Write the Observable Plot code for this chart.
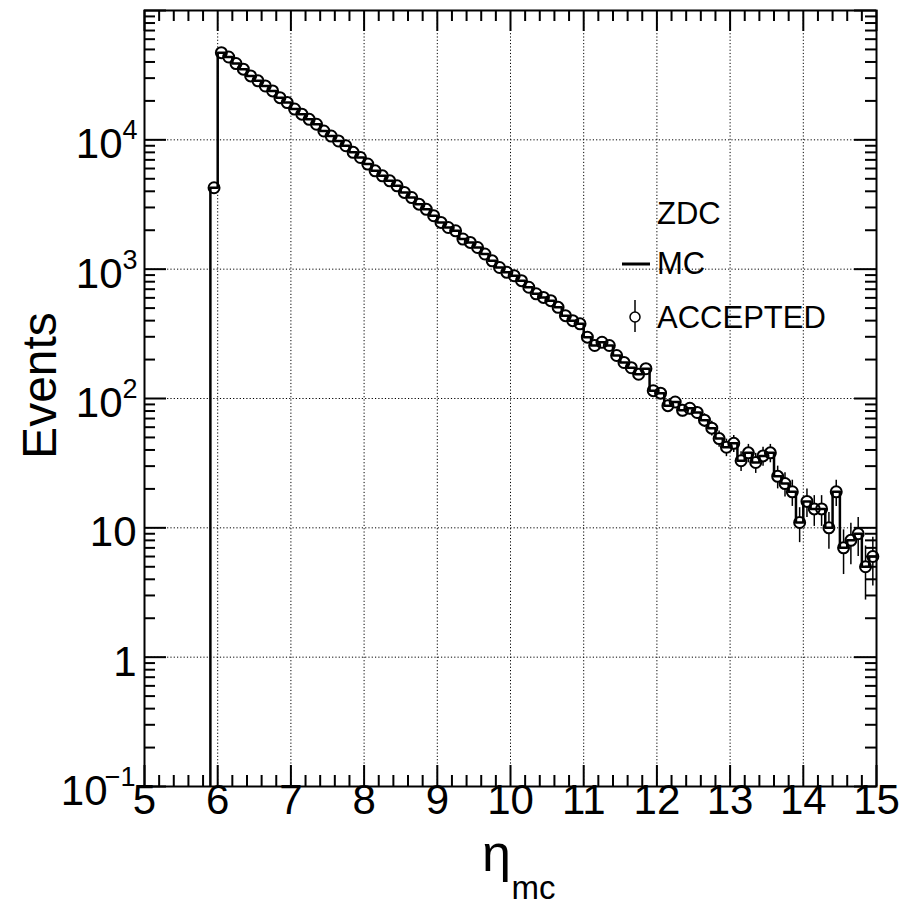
<!DOCTYPE html>
<html>
<head>
<meta charset="utf-8">
<script src="https://cdn.jsdelivr.net/npm/d3@7"></script>
<script src="https://cdn.jsdelivr.net/npm/@observablehq/plot@0.6"></script>
<style>
  body { margin: 0; background: #fff; }
  #chart { position: relative; width: 905px; height: 915px; }
  #legend { position: absolute; left: 0; top: 0; pointer-events: none; }
  svg text { font-family: "Liberation Sans", Arial, Helvetica, sans-serif; }
</style>
</head>
<body>
<div id="chart"></div>
<script>
// Histogram binning: 0.1-wide bins, first filled bin starts at eta = 5.9
const lowEdge = 5.9;
const binWidth = 0.1;

// MC events per bin (eta_mc), from 5.9 up to 15.0
const mcCounts = [
  4260,
  47200, 43700, 38900, 35200, 31200, 28600, 26100, 23900, 21200, 19400,
  17300, 15800, 14400, 13200, 11700, 10700, 9800, 9000, 8000, 7300,
  6500, 5760, 5270, 4820, 4410, 3920, 3580, 3180, 2900, 2590,
  2300, 2100, 1980, 1710, 1610, 1470, 1310, 1160, 1030, 945,
  890, 815, 725, 645, 605, 571, 507, 437, 400, 378,
  298, 257, 272, 257, 215, 190, 173, 154, 170, 115,
  110, 88, 94, 81, 84, 78, 68, 59, 49, 42,
  45, 33, 38, 32, 36, 38, 25, 22, 19, 11,
  16, 14, 14, 10, 19, 7, 8, 9, 5, 6
];

// Accepted events per bin (ZDC acceptance)
const acceptedCounts = [
  4260,
  47200, 43700, 38900, 35200, 31200, 28600, 26100, 23900, 21200, 19400,
  17300, 15800, 14400, 13200, 11700, 10700, 9800, 9000, 8000, 7300,
  6500, 5760, 5270, 4820, 4410, 3920, 3580, 3180, 2900, 2590,
  2300, 2100, 1980, 1710, 1610, 1470, 1310, 1160, 1030, 945,
  890, 815, 725, 645, 605, 571, 507, 437, 400, 378,
  298, 257, 272, 257, 215, 190, 173, 154, 170, 115,
  110, 88, 94, 81, 84, 78, 68, 59, 49, 42,
  45, 33, 38, 32, 36, 38, 25, 22, 19, 11,
  16, 14, 14, 10, 19, 7, 8, 9, 5, 6
];

// Axis ticks
const xMajor = [5, 6, 7, 8, 9, 10, 11, 12, 13, 14, 15];
const xMinor = d3.range(50, 151, 2).filter(v => v % 10 !== 0).map(v => v / 10);
const yDecades = [0.1, 1, 10, 100, 1000, 10000, 100000];
const yMinor = yDecades.slice(0, -1).flatMap(d => [2, 3, 4, 5, 6, 7, 8, 9].map(m => +(m * d).toPrecision(3)));
const yPlainLabels = [{v: 1, t: "1"}, {v: 10, t: "10"}];
const yPowLabels = [{v: 100, e: "2"}, {v: 1000, e: "3"}, {v: 10000, e: "4"}];
const yNegLabels = [{v: 0.1, e: "\u22121"}];

// Layout
const width = 905, height = 915;
const margin = {top: 10, right: 29, bottom: 129, left: 144};
const frameW = width - margin.left - margin.right;
const frameH = height - margin.top - margin.bottom;
const font = "Liberation Sans, Arial, Helvetica, sans-serif";
const yFloor = yDecades[0];

// Bin tables
const mcSteps = mcCounts.map((c, i) => ({x: +(lowEdge + i * binWidth).toFixed(2), y: c}));
mcSteps.push({x: +(lowEdge + mcCounts.length * binWidth).toFixed(2), y: mcCounts[mcCounts.length - 1]});
const accepted = acceptedCounts.map((c, i) => ({
  x: +(lowEdge + (i + 0.5) * binWidth).toFixed(2),
  y: c,
  lo: c - Math.sqrt(c),
  hi: c + Math.sqrt(c)
}));

const black = "#000";
const majorLen = 21, minorLen = 11;
const markerR = 5.5;

const chart = Plot.plot({
  width, height,
  marginTop: margin.top, marginRight: margin.right,
  marginBottom: margin.bottom, marginLeft: margin.left,
  style: {fontFamily: font, background: "#fff", overflow: "visible"},
  x: {domain: [5, 15], axis: null},
  y: {type: "log", domain: [yFloor, 100000], axis: null},
  marks: [
    // dotted grid
    Plot.ruleX(xMajor.slice(1, -1), {stroke: black, strokeWidth: 1, strokeDasharray: "1.2,2.1"}),
    Plot.ruleY(yDecades.slice(1, -1), {stroke: black, strokeWidth: 1, strokeDasharray: "1.2,2.1"}),

    // accepted: Poisson error bars, hidden inside the open markers
    Plot.ruleX(accepted, {x: "x", y1: "lo", y2: "hi", stroke: black, strokeWidth: 1.5}),
    Plot.dot(accepted, {x: "x", y: "y", r: markerR, fill: "#fff", stroke: "none"}),
    Plot.dot(accepted, {x: "x", y: "y", r: markerR, fill: "none", stroke: black, strokeWidth: 2}),

    // MC histogram outline
    Plot.ruleX([mcSteps[0]], {x: "x", y1: () => yFloor, y2: "y", stroke: black, strokeWidth: 2.5}),
    Plot.line(mcSteps, {x: "x", y: "y", curve: "step-after", stroke: black, strokeWidth: 2.5}),

    // frame
    Plot.frame({stroke: black, strokeWidth: 2}),

    // inward ticks: bottom / top
    Plot.ruleX(xMajor, {stroke: black, strokeWidth: 2, insetTop: frameH - majorLen}),
    Plot.ruleX(xMinor, {stroke: black, strokeWidth: 2, insetTop: frameH - minorLen}),
    Plot.ruleX(xMajor, {stroke: black, strokeWidth: 2, insetBottom: frameH - majorLen}),
    Plot.ruleX(xMinor, {stroke: black, strokeWidth: 2, insetBottom: frameH - minorLen}),
    // inward ticks: left / right
    Plot.ruleY(yDecades, {stroke: black, strokeWidth: 2, insetRight: frameW - 22}),
    Plot.ruleY(yMinor, {stroke: black, strokeWidth: 2, insetRight: frameW - minorLen}),
    Plot.ruleY(yDecades, {stroke: black, strokeWidth: 2, insetLeft: frameW - 22}),
    Plot.ruleY(yMinor, {stroke: black, strokeWidth: 2, insetLeft: frameW - minorLen}),

    // x tick labels
    Plot.text(xMajor, {x: d => d, frameAnchor: "bottom", dy: 27, text: d => String(d), fontSize: 42, fill: black}),

    // y tick labels
    Plot.text(yPlainLabels, {y: "v", text: "t", frameAnchor: "left", textAnchor: "end", dx: -8, dy: 5, fontSize: 42, fill: black}),
    Plot.text(yPowLabels, {y: "v", text: () => "10", frameAnchor: "left", textAnchor: "end", dx: -22, dy: 5, fontSize: 42, fill: black}),
    Plot.text(yPowLabels, {y: "v", text: "e", frameAnchor: "left", textAnchor: "end", dx: -7, dy: -9, fontSize: 27, fill: black}),
    Plot.text(yNegLabels, {y: "v", text: () => "10", frameAnchor: "left", textAnchor: "end", dx: -37, dy: 5, fontSize: 42, fill: black}),
    Plot.text(yNegLabels, {y: "v", text: "e", frameAnchor: "left", textAnchor: "end", dx: -9, dy: -9, fontSize: 27, fill: black}),

    // axis titles
    Plot.text(["Events"], {frameAnchor: "left", textAnchor: "middle", rotate: -90, dx: -104, dy: -13, fontSize: 48, fill: black}),
    Plot.text(["\u03b7"], {frameAnchor: "bottom", textAnchor: "middle", dx: -14, dy: 84, fontSize: 52, fill: black}),
    Plot.text(["mc"], {frameAnchor: "bottom", textAnchor: "start", dx: 1, dy: 112, fontSize: 33, fill: black})
  ]
});

const container = document.getElementById("chart");
container.appendChild(chart);

// legend block inside the frame
const legend = d3.select(container).append("svg")
  .attr("id", "legend")
  .attr("width", width).attr("height", height);
legend.append("text").attr("x", 657).attr("y", 224).attr("font-size", 31).text("ZDC");
legend.append("line").attr("x1", 622).attr("x2", 650).attr("y1", 264).attr("y2", 264)
  .attr("stroke", black).attr("stroke-width", 3);
legend.append("text").attr("x", 657).attr("y", 274).attr("font-size", 31).text("MC");
legend.append("line").attr("x1", 635).attr("x2", 635).attr("y1", 300).attr("y2", 332)
  .attr("stroke", black).attr("stroke-width", 1.5);
legend.append("circle").attr("cx", 635).attr("cy", 317).attr("r", 5)
  .attr("fill", "#fff").attr("stroke", black).attr("stroke-width", 1.5);
legend.append("text").attr("x", 657).attr("y", 328).attr("font-size", 31).text("ACCEPTED");
</script>
</body>
</html>
